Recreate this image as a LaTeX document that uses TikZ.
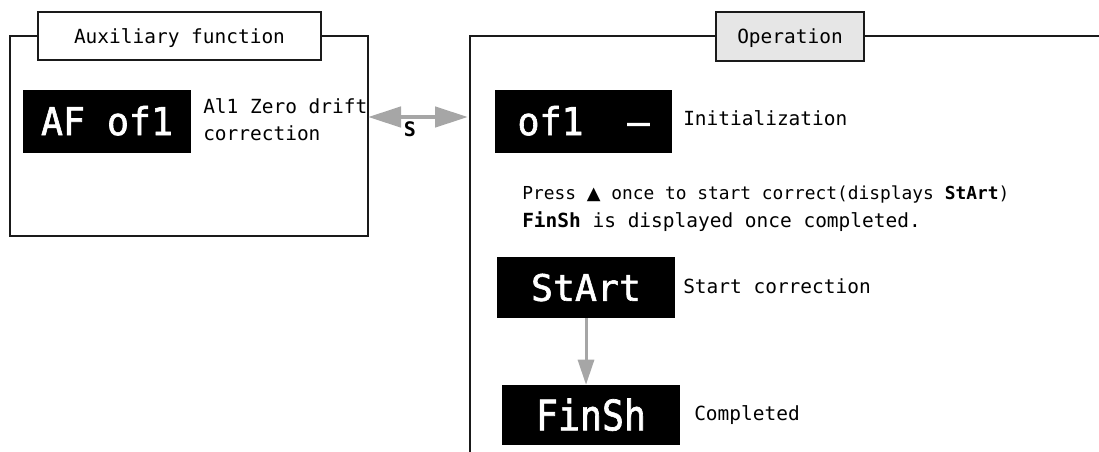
\documentclass[tikz,border=0pt]{standalone}
\usepackage{fontspec}
\usepackage{graphicx}
\setmainfont{DejaVu Sans Mono}
\newfontfamily\mono{DejaVu Sans Mono}
\newfontfamily\lcdf[FakeBold=1.6]{DejaVu Sans Mono}
\newfontfamily\symf{DejaVu Sans}
\usetikzlibrary{arrows.meta}
\definecolor{arrowgray}{HTML}{A6A6A6}
\definecolor{opgray}{HTML}{E6E6E6}
\definecolor{linec}{HTML}{1A1A1A}
\tikzset{
  frameline/.style={draw=linec, line width=1.3pt},
  titlebox/.style={frameline, inner sep=0pt, text height=10.6pt, text depth=0pt,
    font=\mono\fontsize{14.6pt}{17pt}\selectfont},
  lcd/.style={fill=black, text=white, inner sep=0pt, text height=20pt, text depth=0pt,
    font=\lcdf\fontsize{27.4pt}{30pt}\selectfont},
  lbl/.style={anchor=base west, inner sep=0pt, font=\mono\fontsize{14.6pt}{17pt}\selectfont},
  grayarr/.style={draw=arrowgray, color=arrowgray},
}
\begin{document}
\begin{tikzpicture}[x=0.75pt,y=-0.75pt]
\useasboundingbox (0,0) rectangle (1099,451);
% left frame
\node[frameline, minimum width=268.5pt, minimum height=150pt, inner sep=0pt] (auxframe) at (189,136) {};
% right frame (open at right and bottom)
\coordinate (opright) at (1110,36);
\coordinate (opcorner) at (470,36);
\coordinate (opbottom) at (470,460);
\draw[frameline] (opright) -- (opcorner) -- (opbottom);
% titles
\node[titlebox, fill=white, minimum width=212.25pt, minimum height=36pt] (auxtitle) at (179.5,36) {Auxiliary function};
\node[titlebox, fill=opgray, minimum width=111pt, minimum height=36.75pt] (optitle) at (790,36.5) {Operation};
% left content
\node[lcd, minimum width=126pt, minimum height=47.6pt] (afof) at (107,121.75) {\scalebox{1}[1.05]{AF of1}};
\node[lbl] (afdesc1) at (203,113) {Al1 Zero drift};
\node[lbl] (afdesc2) at (203,140) {correction};
% double arrow
\coordinate (al) at (368,117);
\coordinate (ar) at (468,117);
\draw[grayarr, line width=3.5pt, {Triangle[length=24.75pt,width=15pt]}-{Triangle[length=24.75pt,width=15pt]}] (al) -- (ar);
\node[inner sep=0pt, font=\mono\bfseries\fontsize{15pt}{17pt}\selectfont] (s) at (410,129) {S};
% right content
\node[lcd, minimum width=132.75pt, minimum height=47.6pt] (of) at (583.5,121.75) {\scalebox{1}[1.05]{of1\ \ –}};
\node[lbl] (init) at (683,125) {Initialization};
\node[lbl, font=\mono\fontsize{13.4pt}{16pt}\selectfont] (press) at (522,199) {Press {\symf ▲} once to start correct(displays \textbf{StArt})};
\node[lbl] (finshmsg) at (522,227) {\textbf{FinSh} is displayed once completed.};
\node[lcd, minimum width=133.5pt, minimum height=45.75pt] (start) at (586,287.5) {StArt};
\node[lbl] (startd) at (683,293) {Start correction};
\node[lcd, text height=23pt, minimum width=133.5pt, minimum height=45pt] (finsh) at (591,415) {\scalebox{1}[1.15]{FinSh}};
\node[lbl] (done) at (694,420) {Completed};
\draw[grayarr, line width=2.25pt, -{Triangle[length=18.75pt,width=12pt]}] (start.south) -- (start.south |- finsh.north);
\end{tikzpicture}
\end{document}
